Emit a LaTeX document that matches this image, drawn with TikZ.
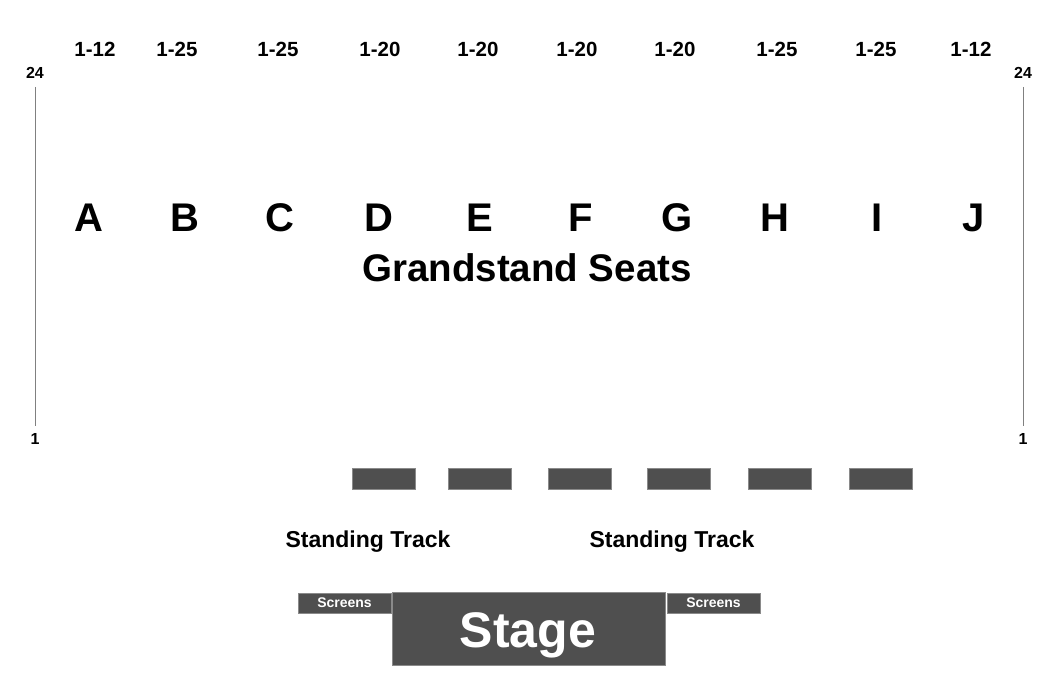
\documentclass[tikz,border=0pt]{standalone}
\usepackage{fontspec}
\setmainfont{Liberation Sans}
\definecolor{blockgray}{HTML}{4F4F4F}
\definecolor{edgegray}{HTML}{8A8A8A}
\tikzset{
  lbl/.style={font=\fontsize{#1}{#1}\selectfont\bfseries, inner sep=0pt, anchor=center},
  block/.style={fill=blockgray, draw=edgegray, line width=0.6pt},
  rowline/.style={draw=gray, line width=1pt}
}
\begin{document}
\begin{tikzpicture}[x=1pt,y=-1pt]
\useasboundingbox[fill=white] (0,0) rectangle (1050,700);
% row axes
\node[lbl=16] (l24) at (35,73) {24};
\node[lbl=16] (l1) at (35,439) {1};
\node[lbl=16] (r24) at (1023,73) {24};
\node[lbl=16] (r1) at (1023,439) {1};
\coordinate (lt) at (35,87); \coordinate (lb) at (35,426);
\coordinate (rt) at (1023,87); \coordinate (rb) at (1023,426);
\draw[rowline] (lt) -- (lb);
\draw[rowline] (rt) -- (rb);
% seat ranges
\foreach \x/\t [count=\i] in {95/1-12,177/1-25,278/1-25,380/1-20,478/1-20,577/1-20,675/1-20,777/1-25,876/1-25,971/1-12}
  \node[lbl=20.5] (range\i) at (\x,49) {\t};
% sections
\foreach \x/\t in {89/A,185/B,280/C,379/D,480/E,581/F,677/G,775/H,877/I,974/J}
  \node[lbl=40] (sec\t) at (\x,218) {\t};
\node[lbl=38.5] (grand) at (527,268) {Grandstand Seats};
% barriers
\foreach \x [count=\i] in {352,448,548,647,748,849}
  \path[block] (\x,468) rectangle ++(63,21) node[midway] (bar\i) {};
\node[lbl=23] (st1) at (368,542) {Standing Track};
\node[lbl=23] (st2) at (672,542) {Standing Track};
% stage and screens
\path[block] (298,593) rectangle (391,613) node[midway, lbl=14, text=white] (scrL) {Screens};
\path[block] (667,593) rectangle (760,613) node[midway, lbl=14, text=white] (scrR) {Screens};
\path[block] (392,592) rectangle (665,665);
\node[lbl=50, text=white, anchor=base] (stage) at (528,647) {Stage};
\end{tikzpicture}
\end{document}
